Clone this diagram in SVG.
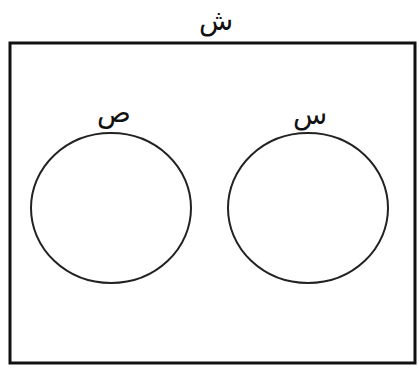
<svg xmlns="http://www.w3.org/2000/svg" width="419" height="368" viewBox="0 0 419 368">
<style>
.frame{fill:none;stroke:#111;stroke-width:3}
.set{fill:none;stroke:#222;stroke-width:2}
.lbl{font-family:"DejaVu Sans",sans-serif;font-size:28px;fill:#111;text-anchor:middle}
</style>
<rect width="419" height="368" fill="#fff"/>
<g id="universe">
<rect class="frame" x="10" y="43" width="405" height="320"/>
<text class="lbl" x="216" y="30">ش</text>
</g>
<g id="set-sad">
<ellipse class="set" cx="111" cy="208" rx="80" ry="75"/>
<text class="lbl" x="114" y="122">ص</text>
</g>
<g id="set-sin">
<ellipse class="set" cx="308" cy="208" rx="80" ry="75"/>
<text class="lbl" x="310" y="124">س</text>
</g>
<g id="connectors"/>
</svg>
